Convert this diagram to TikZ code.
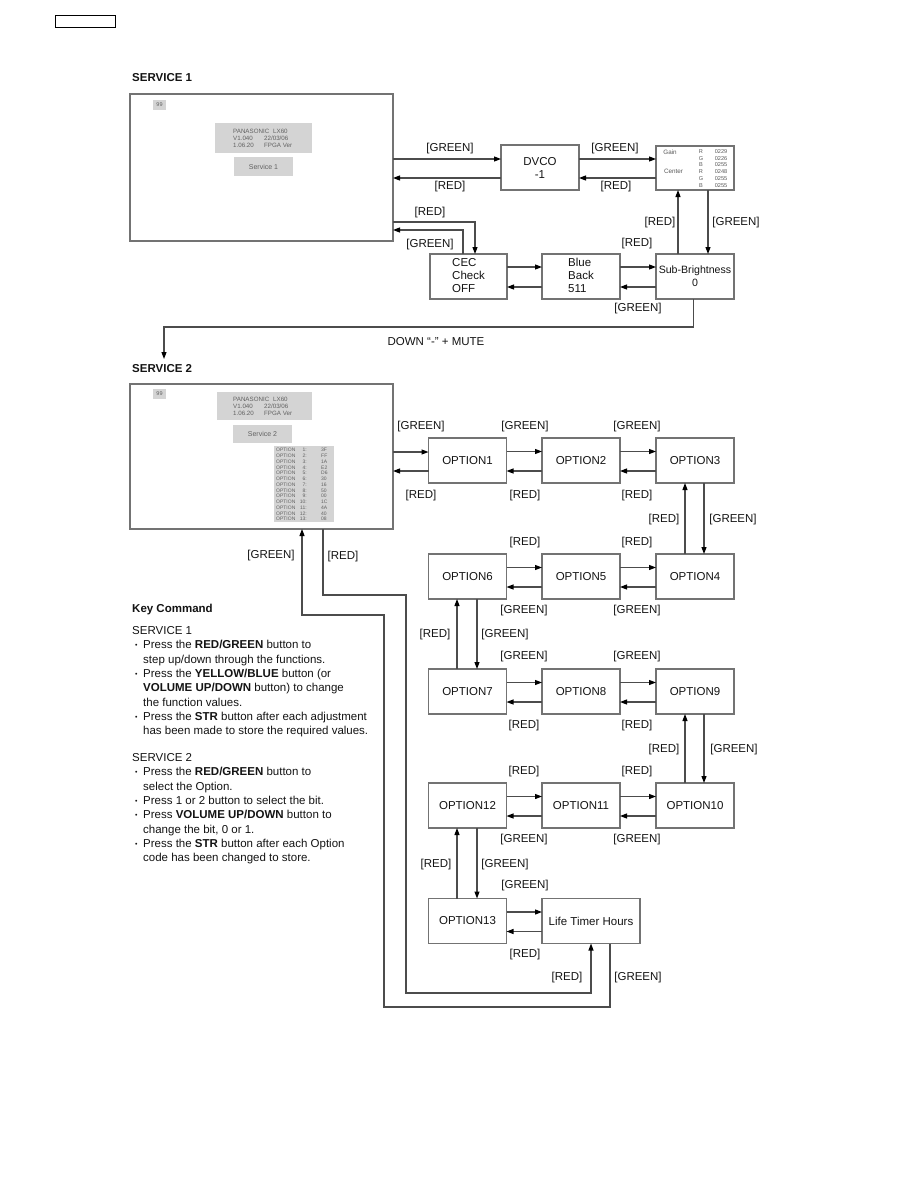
\documentclass[tikz,border=0pt]{standalone}
\usepackage{fontspec}
\setmainfont{Liberation Sans}
\usepackage{graphicx}
\usetikzlibrary{arrows.meta,calc}
\definecolor{linec}{gray}{0.3}
\definecolor{boxc}{gray}{0.45}
\definecolor{txtc}{gray}{0.08}
\definecolor{scrfill}{gray}{0.83}
\definecolor{scrtxt}{gray}{0.38}
\tikzset{
  lbl/.style={font=\fontsize{11.5}{13}\selectfont, text=txtc, inner sep=0pt},
  box/.style={draw=boxc, line width=1.2pt, fill=white, minimum width=78pt, minimum height=45pt,
    inner sep=0pt, outer sep=0pt, font=\fontsize{11.5}{13}\selectfont, text=txtc, align=center},
  screen/.style={draw=boxc, line width=1.2pt, fill=white, inner sep=0pt, outer sep=0pt},
  scrbox/.style={fill=scrfill, inner sep=0pt, outer sep=0pt},
  scrtext/.style={text=scrtxt, inner sep=0pt, align=left},
  arr/.style={draw=linec, line width=1.1pt, -{Triangle[length=7pt,width=5pt,color=black]}},
}
\newcommand{\bul}{\hspace*{3pt}\makebox[8pt][l]{\raisebox{1pt}{\scalebox{0.6}{\textbullet}}}}
\newcommand{\ind}{\hspace*{11pt}}
\begin{document}
\begin{tikzpicture}[x=1pt,y=-1pt]
\useasboundingbox (0,0) rectangle (918,1188);
\fill[white] (0,0) rectangle (918,1188);
\node[draw=black, line width=1pt, minimum width=60pt, minimum height=12pt, inner sep=0pt] (tag) at (85,22) {};

% ---------------- SERVICE 1 ----------------
\node[lbl, anchor=west, font=\bfseries\fontsize{11.5}{13}\selectfont] (t1) at (132,78) {SERVICE 1};
\node[screen, minimum width=263pt, minimum height=147pt] (s1) at (261.5,167.5) {};
\node[scrbox, minimum width=13pt, minimum height=10pt] (s1n) at (159.5,105) {};
\node[scrtext, font=\fontsize{5.5}{6}\selectfont] (s1nt) at (159.5,105) {99};
\node[scrbox, minimum width=97pt, minimum height=30pt] (s1i) at (263.5,138) {};
\node[scrtext, anchor=west, font=\fontsize{6.2}{7}\selectfont] (s1ia) at (233,138) {PANASONIC\\V1.040\\1.06.20};
\node[scrtext, anchor=west, font=\fontsize{6.2}{7}\selectfont] (s1ib) at (264,138) {\hspace*{9pt}LX60\\22/03/06\\FPGA Ver};
\node[scrbox, minimum width=59pt, minimum height=19pt, font=\fontsize{7}{8}\selectfont, text=scrtxt] (s1s) at (263.5,166.5) {Service 1};

\node[box] (dvco) at (540,167.5) {DVCO\\-1};
\node[box, minimum height=44pt] (gain) at (695,168) {};
\node[scrtext, font=\fontsize{6.3}{7}\selectfont, text=gray!70!black] (gl) at (670,152) {Gain};
\node[scrtext, font=\fontsize{6.3}{7}\selectfont, text=gray!70!black] (cl) at (673.5,171) {Center};
\foreach \c/\v [count=\i] in {R/0229,G/0226,B/0255,R/0248,G/0255,B/0255}{
  \node[scrtext, font=\fontsize{5.6}{6}\selectfont, text=gray!70!black] (gc\i) at (701,{144.5+6.8*\i}) {\c};
  \node[scrtext, font=\fontsize{5.6}{6}\selectfont, text=gray!70!black] (gv\i) at (721,{144.5+6.8*\i}) {\v};
}
\node[box, font=\fontsize{10.6}{13}\selectfont] (sub) at (695,276.5) {Sub-Brightness\\0};
\node[box] (blue) at (581,276.5) {\begin{tabular}{@{}l@{}}Blue\\Back\\511\end{tabular}};
\node[box, minimum width=77pt] (cec) at (468.5,276.5) {\begin{tabular}{@{}l@{}}CEC\\Check\\OFF\end{tabular}};

\draw[arr] ([yshift=8.5pt]dvco.west -| s1.east) -- ([yshift=8.5pt]dvco.west);
\draw[arr] ([yshift=-10.5pt]dvco.west) -- ([yshift=-10.5pt]dvco.west -| s1.east);
\draw[arr] ([yshift=8.5pt]dvco.east) -- ([yshift=8.5pt]dvco.east -| gain.west);
\draw[arr] ([yshift=-10.5pt]dvco.east -| gain.west) -- ([yshift=-10.5pt]dvco.east);
\draw[arr] ([xshift=-17pt]sub.north) -- ([xshift=-17pt]gain.south);
\draw[arr] ([xshift=13pt]gain.south) -- ([xshift=13pt]sub.north);
\draw[arr] ([yshift=9.5pt]blue.east) -- ([yshift=9.5pt]sub.west);
\draw[arr] ([yshift=-10.5pt]sub.west) -- ([yshift=-10.5pt]blue.east);
\draw[arr] ([yshift=9.5pt]cec.east) -- ([yshift=9.5pt]blue.west);
\draw[arr] ([yshift=-10.5pt]blue.west) -- ([yshift=-10.5pt]cec.east);
\coordinate (r1) at (475,222);
\draw[arr] (s1.east |- r1) -- (r1) -- ([xshift=6.5pt]cec.north);
\coordinate (g1) at (463,230);
\draw[arr] ([xshift=-5.5pt]cec.north) -- (g1) -- (s1.east |- g1);
\coordinate (d1) at (164,327);
\coordinate (d2) at (164,359);
\draw[arr] ([xshift=-1.5pt]sub.south) |- (d1) -- (d2);
\node[lbl] (dm) at (436,342) {DOWN “-” + MUTE};

% ---------------- SERVICE 2 ----------------
\node[lbl, anchor=west, font=\bfseries\fontsize{11.5}{13}\selectfont] (t2) at (132,369) {SERVICE 2};
\node[screen, minimum width=263pt, minimum height=145pt] (s2) at (261.5,456.5) {};
\node[scrbox, minimum width=13pt, minimum height=10pt] (s2n) at (159.5,394) {};
\node[scrtext, font=\fontsize{5.5}{6}\selectfont] (s2nt) at (159.5,394) {99};
\node[scrbox, minimum width=95pt, minimum height=28pt] (s2i) at (264.5,406) {};
\node[scrtext, anchor=west, font=\fontsize{6.2}{7}\selectfont] (s2ia) at (233,406) {PANASONIC\\V1.040\\1.06.20};
\node[scrtext, anchor=west, font=\fontsize{6.2}{7}\selectfont] (s2ib) at (264,406) {\hspace*{9pt}LX60\\22/03/06\\FPGA Ver};
\node[scrbox, minimum width=59pt, minimum height=18pt, font=\fontsize{7}{8}\selectfont, text=scrtxt] (s2s) at (262.5,434) {Service 2};
\node[scrbox, minimum width=60pt, minimum height=76pt] (s2o) at (304,484) {};
\foreach \v [count=\i] in {3F,FF,1A,E2,D6,30,16,50,00,1C,4A,40,08}{
  \node[scrtext, anchor=west, font=\fontsize{5}{5}\selectfont] (oa\i) at (276,{444.5+5.75*\i}) {OPTION};
  \node[scrtext, anchor=east, font=\fontsize{5}{5}\selectfont] (ob\i) at (307,{444.5+5.75*\i}) {\i:};
  \node[scrtext, anchor=west, font=\fontsize{5}{5}\selectfont] (oc\i) at (321,{444.5+5.75*\i}) {\v};
}

\node[box] (o1) at (467.5,460.5) {OPTION1};
\node[box] (o2) at (581,460.5) {OPTION2};
\node[box] (o3) at (695,460.5) {OPTION3};
\node[box] (o6) at (467.5,576.5) {OPTION6};
\node[box] (o5) at (581,576.5) {OPTION5};
\node[box] (o4) at (695,576.5) {OPTION4};
\node[box] (o7) at (467.5,691.5) {OPTION7};
\node[box] (o8) at (581,691.5) {OPTION8};
\node[box] (o9) at (695,691.5) {OPTION9};
\node[box] (o12) at (467.5,805.5) {OPTION12};
\node[box] (o11) at (581,805.5) {OPTION11};
\node[box] (o10) at (695,805.5) {OPTION10};
\node[box] (o13) at (467.5,921) {OPTION13};
\node[box, minimum width=98pt] (lt) at (591,921) {Life Timer Hours};

% row 1
\draw[arr] ([yshift=8.5pt]o1.west -| s2.east) -- ([yshift=8.5pt]o1.west);
\draw[arr] ([yshift=-10.5pt]o1.west) -- ([yshift=-10.5pt]o1.west -| s2.east);
\foreach \a/\b in {o1/o2,o2/o3,o6/o5,o5/o4,o7/o8,o8/o9,o12/o11,o11/o10,o13/lt}{
  \draw[arr] ([yshift=9pt]\a.east) -- ([yshift=9pt]\a.east -| \b.west);
  \draw[arr] ([yshift=-10.5pt]\a.east -| \b.west) -- ([yshift=-10.5pt]\a.east);
}
% verticals
\foreach \a/\b in {o3/o4,o9/o10}{
  \draw[arr] ([xshift=-10pt]\b.north) -- ([xshift=-10pt]\a.south);
  \draw[arr] ([xshift=9pt]\a.south) -- ([xshift=9pt]\b.north);
}
\foreach \a/\b in {o6/o7,o12/o13}{
  \draw[arr] ([xshift=-10.5pt]\b.north) -- ([xshift=-10.5pt]\a.south);
  \draw[arr] ([xshift=9.5pt]\a.south) -- ([xshift=9.5pt]\b.north);
}
% loops
\coordinate (ra) at (406,595);
\coordinate (rb) at (406,993);
\draw[arr] ([xshift=61.5pt]s2.south) |- (ra) -- (rb) -| (lt.south);
\coordinate (ga) at (384,1007);
\coordinate (gb) at (384,615);
\draw[arr] ([xshift=19pt]lt.south) |- (ga) -- (gb) -| ([xshift=40.5pt]s2.south);

% labels
\foreach \x/\y/\lab [count=\i] in {
 450/149/{[GREEN]}, 450/187/{[RED]}, 615/149/{[GREEN]}, 616/187/{[RED]},
 430/213/{[RED]}, 430/245/{[GREEN]}, 660/223/{[RED]}, 736/223/{[GREEN]},
 637/244/{[RED]}, 638/309/{[GREEN]},
 421/427/{[GREEN]}, 525/427/{[GREEN]}, 637/427/{[GREEN]},
 421/496/{[RED]}, 525/496/{[RED]}, 637/496/{[RED]},
 664/520/{[RED]}, 733/520/{[GREEN]},
 271/556/{[GREEN]}, 343/557/{[RED]},
 525/543/{[RED]}, 637/543/{[RED]}, 524/611/{[GREEN]}, 637/611/{[GREEN]},
 435/635/{[RED]}, 505/635/{[GREEN]},
 524/657/{[GREEN]}, 637/657/{[GREEN]}, 524/726/{[RED]}, 637/726/{[RED]},
 664/750/{[RED]}, 734/750/{[GREEN]},
 524/772/{[RED]}, 637/772/{[RED]}, 524/840/{[GREEN]}, 637/840/{[GREEN]},
 436/865/{[RED]}, 505/865/{[GREEN]},
 525/886/{[GREEN]}, 525/955/{[RED]},
 567/978/{[RED]}, 638/978/{[GREEN]}}{
  \node[lbl] (L\i) at (\x,\y) {\lab};
}

% key command
\node[lbl, anchor=north west, align=left, font=\fontsize{11.5}{14.3}\selectfont] (key) at (132,604) {%
\textbf{Key Command}\\[7.7pt]
SERVICE 1\\
\bul Press the \textbf{RED/GREEN} button to\\
\ind step up/down through the functions.\\
\bul Press the \textbf{YELLOW/BLUE} button (or\\
\ind\textbf{VOLUME UP/DOWN} button) to change\\
\ind the function values.\\
\bul Press the \textbf{STR} button after each adjustment\\
\ind has been made to store the required values.\\[12.7pt]
SERVICE 2\\
\bul Press the \textbf{RED/GREEN} button to\\
\ind select the Option.\\
\bul Press 1 or 2 button to select the bit.\\
\bul Press \textbf{VOLUME UP/DOWN} button to\\
\ind change the bit, 0 or 1.\\
\bul Press the \textbf{STR} button after each Option\\
\ind code has been changed to store.};
\end{tikzpicture}
\end{document}
